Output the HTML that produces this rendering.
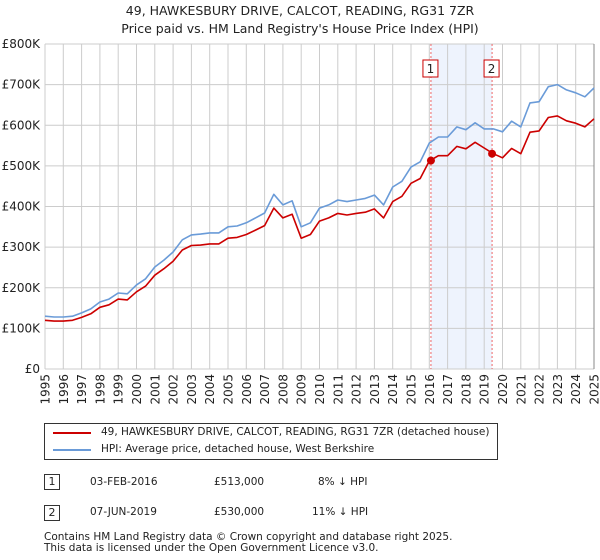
<!DOCTYPE html>
<html><head><meta charset="utf-8"><style>
body{margin:0;background:#fff;font-family:"DejaVu Sans","Liberation Sans",sans-serif;}
#wrap{position:relative;width:600px;height:560px;overflow:hidden;}
.t{position:absolute;font-size:12px;color:#222;white-space:nowrap;}
</style></head><body><div id="wrap">
<div class="t" style="left:0;width:600px;top:2px;text-align:center;font-size:12.5px;line-height:18px">49, HAWKESBURY DRIVE, CALCOT, READING, RG31 7ZR<br>Price paid vs. HM Land Registry's House Price Index (HPI)</div>
<svg id="c" width="600" height="420" style="position:absolute;left:0;top:0;font-family:'DejaVu Sans',sans-serif"></svg>
<div style="position:absolute;left:44px;top:423px;width:452px;height:35px;border:1px solid #333;">
<div style="position:absolute;left:8px;top:8px;width:38px;height:2px;background:#cc0000"></div>
<div class="t" style="left:56px;top:2px;font-size:10.5px">49, HAWKESBURY DRIVE, CALCOT, READING, RG31 7ZR (detached house)</div>
<div style="position:absolute;left:8px;top:25px;width:38px;height:2px;background:#6a9bd8"></div>
<div class="t" style="left:56px;top:19px;font-size:10.5px">HPI: Average price, detached house, West Berkshire</div>
</div>
<div>
<div class="t" style="left:44px;top:474px;width:14px;height:14px;border:1px solid #333;text-align:center;font-size:11px;line-height:14px">1</div>
<div class="t" style="left:90px;top:476px;font-size:10.5px">03-FEB-2016</div>
<div class="t" style="left:214px;top:476px;font-size:10.5px">£513,000</div>
<div class="t" style="left:318px;top:476px;font-size:10.5px">8% ↓ HPI</div></div>
<div>
<div class="t" style="left:44px;top:505px;width:14px;height:14px;border:1px solid #333;text-align:center;font-size:11px;line-height:14px">2</div>
<div class="t" style="left:90px;top:506px;font-size:10.5px">07-JUN-2019</div>
<div class="t" style="left:214px;top:506px;font-size:10.5px">£530,000</div>
<div class="t" style="left:312px;top:506px;font-size:10.5px">11% ↓ HPI</div></div>
<div class="t" style="left:44px;top:532px;font-size:10.5px;line-height:11px">Contains HM Land Registry data © Crown copyright and database right 2025.<br>This data is licensed under the Open Government Licence v3.0.</div>
</div>
<script>
const hpi=[130,128,128,130,138,148,165,172,187,185,207,222,251,268,288,318,330,332,335,335,350,352,360,372,384,430,404,414,350,360,396,404,416,412,416,420,428,404,448,462,497,510,556,571,571,596,589,606,591,591,584,610,596,655,658,695,700,687,680,670,692];
const red=[120,118,118,120,127,136,152,158,172,170,190,204,231,247,265,293,304,305,308,308,322,324,331,342,353,396,372,381,322,331,364,372,383,379,383,386,394,372,412,425,457,469,512,525,525,548,542,558,544,530,520,543,530,583,586,619,623,611,605,596,616];
const startYear=1995, step=0.5;
const sales=[{n:"1",t:2016.09,v:513},{n:"2",t:2019.43,v:530}];
const yTicks=[0,100,200,300,400,500,600,700,800];
const xTicks=[];for(let y=1995;y<=2025;y++)xTicks.push(y);
const L=45,R=594,T=44,B=369;
const X=t=>L+(t-1995)/30*(R-L), Y=v=>B-v/800*(B-T);
const s=document.getElementById('c'),NS='http://www.w3.org/2000/svg';
function mk(tag,a,txt){const e=document.createElementNS(NS,tag);for(const k in a)e.setAttribute(k,a[k]);if(txt!==undefined)e.textContent=txt;s.appendChild(e);return e;}
let e=mk('rect',{x:X(sales[0].t),y:T,width:X(sales[1].t)-X(sales[0].t),height:B-T,fill:'#eef3fd'});


yTicks.forEach(v=>{
 let g=mk('line',{x1:L,x2:R,y1:Y(v),y2:Y(v),stroke:'#ccc'});
 
 
 let l=mk('text',{x:L-5,y:Y(v)+4,'text-anchor':'end','font-size':12,fill:'#222'},v===0?'£0':'£'+v+'K');
 
 
});
xTicks.forEach(y=>{
 let g=mk('line',{x1:X(y),x2:X(y),y1:T,y2:B,stroke:'#ccc'});
 
 
 let l=mk('text',{x:0,y:0,'text-anchor':'end','font-size':12,fill:'#222',transform:'translate('+(X(y)+4.5)+','+(B+5)+') rotate(-90)'},y);
 
 
});
e=mk('line',{x1:R,x2:R,y1:T,y2:B,stroke:'#888'});


sales.forEach(p=>{
 let l=mk('line',{x1:X(p.t),x2:X(p.t),y1:T,y2:B,stroke:'#e66','stroke-dasharray':'2,2'});
 
 
 let b=mk('rect',{x:X(p.t)-8,y:60,width:15,height:17,fill:'#fff',stroke:'#c00'});
 
 
 let t=mk('text',{x:X(p.t)-0.5,y:73,'text-anchor':'middle','font-size':12,fill:'#222'},p.n);
 
 
});
function line(arr,col,name){
 const d=arr.map((v,i)=>(i?'L':'M')+X(startYear+i*step).toFixed(1)+','+Y(v).toFixed(1)).join('');
 const p=mk('path',{d:d,fill:'none',stroke:col,'stroke-width':1.6,'stroke-linejoin':'round'});
 
 
}
line(hpi,'#6a9bd8','hpi-line');
line(red,'#cc0000','property-line');
sales.forEach(p=>{
 let c=mk('circle',{cx:X(p.t),cy:Y(p.v),r:4,fill:'#cc0000'});
 
 
});
</script></body></html>
